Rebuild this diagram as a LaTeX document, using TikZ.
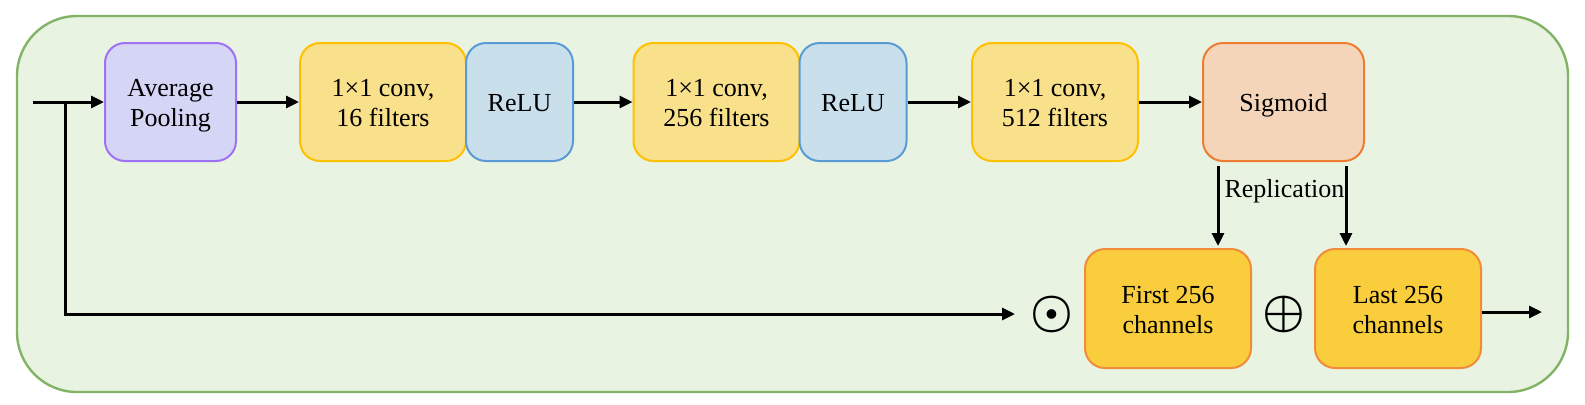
\documentclass[tikz,border=0pt]{standalone}
\usepackage{fontspec}
\usepackage{graphicx}
\setmainfont{Liberation Serif}
\usetikzlibrary{arrows.meta,calc}
\newcommand{\btxt}[1]{\raisebox{-1.8pt}[\height][\depth]{\begin{tabular}{@{}c@{}}#1\end{tabular}}}
\definecolor{outerfill}{HTML}{E8F3E1}
\definecolor{outerdraw}{HTML}{82B366}
\definecolor{apfill}{HTML}{D5D5F6}
\definecolor{apdraw}{HTML}{A070F5}
\definecolor{convfill}{HTML}{F9E08A}
\definecolor{convdraw}{HTML}{FFC000}
\definecolor{relufill}{HTML}{C9DFEB}
\definecolor{reludraw}{HTML}{5B9BD5}
\definecolor{sigfill}{HTML}{F5D5B9}
\definecolor{sigdraw}{HTML}{ED7D31}
\definecolor{chfill}{HTML}{F9CD3B}
\definecolor{chdraw}{HTML}{F08C3A}
\tikzset{
  blk/.style={rounded corners=10pt, line width=1pt, inner sep=0pt,
    minimum height=59pt, font=\fontsize{13pt}{15pt}\selectfont},
  apbox/.style={blk, fill=apfill, draw=apdraw, minimum width=65.5pt},
  convbox/.style={blk, fill=convfill, draw=convdraw, minimum width=83pt},
  relubox/.style={blk, fill=relufill, draw=reludraw, minimum width=53.5pt},
  sigbox/.style={blk, fill=sigfill, draw=sigdraw, minimum width=80.5pt},
  chbox/.style={blk, fill=chfill, draw=chdraw, minimum width=83pt, minimum height=59.5pt},
  opsym/.style={inner sep=0pt, outer sep=0pt},
  lbl/.style={inner sep=0pt, font=\fontsize{13pt}{15pt}\selectfont},
  arr/.style={line width=1.5pt, -{Triangle[length=6.5pt,width=6pt]}},
}
\begin{document}
\begin{tikzpicture}[x=0.5pt,y=-0.5pt]
\useasboundingbox (0,0) rectangle (1585,404);
\draw[fill=outerfill, draw=outerdraw, line width=1.2pt, rounded corners=30pt] (17,16) rectangle (1568,392);

\node[apbox] (ap) at (170.5,102) {\btxt{Average\\Pooling}};
\node[convbox] (c1) at (383,102) {\btxt{1×1 conv,\\16 filters}};
\node[relubox] (r1) at (519.5,102) {\btxt{ReLU}};
\node[convbox] (c2) at (716.5,102) {\btxt{1×1 conv,\\256 filters}};
\node[relubox] (r2) at (853,102) {\btxt{ReLU}};
\node[convbox] (c3) at (1055,102) {\btxt{1×1 conv,\\512 filters}};
\node[sigbox] (sig) at (1283.5,102) {\btxt{Sigmoid}};
\node[chbox] (first) at (1168,308.5) {\btxt{First 256\\channels}};
\node[chbox] (last) at (1398,308.5) {\btxt{Last 256\\channels}};
\node[opsym] (odot) at (1052,314) {\scalebox{2.4}{\boldmath$\odot$}};
\node[opsym] (oplus) at (1284,314) {\scalebox{2.4}{\boldmath$\oplus$}};
\node[lbl, anchor=base] (rep) at (1284.5,197) {Replication};

\coordinate (in) at (33,102);
\coordinate (br) at (65,102);
\coordinate (out) at (1542,312);
\coordinate (s1) at ($(sig.south west)+(16,4)$);
\coordinate (s2) at ($(sig.south east)+(-19,4)$);
\coordinate (t1) at ($(s1 |- first.north)+(0,-2)$);
\coordinate (t2) at ($(s2 |- last.north)+(0,-2)$);

\draw[arr] (in) -- (ap);
\draw[arr] (br) |- ([xshift=-18.5pt]odot.center);
\draw[arr] (ap) -- (c1);
\draw[arr] (r1) -- (c2);
\draw[arr] (r2) -- (c3);
\draw[arr] (c3) -- (sig);
\draw[arr] (s1) -- (t1);
\draw[arr] (s2) -- (t2);
\draw[arr] (last.east |- out) -- (out);
\end{tikzpicture}
\end{document}
